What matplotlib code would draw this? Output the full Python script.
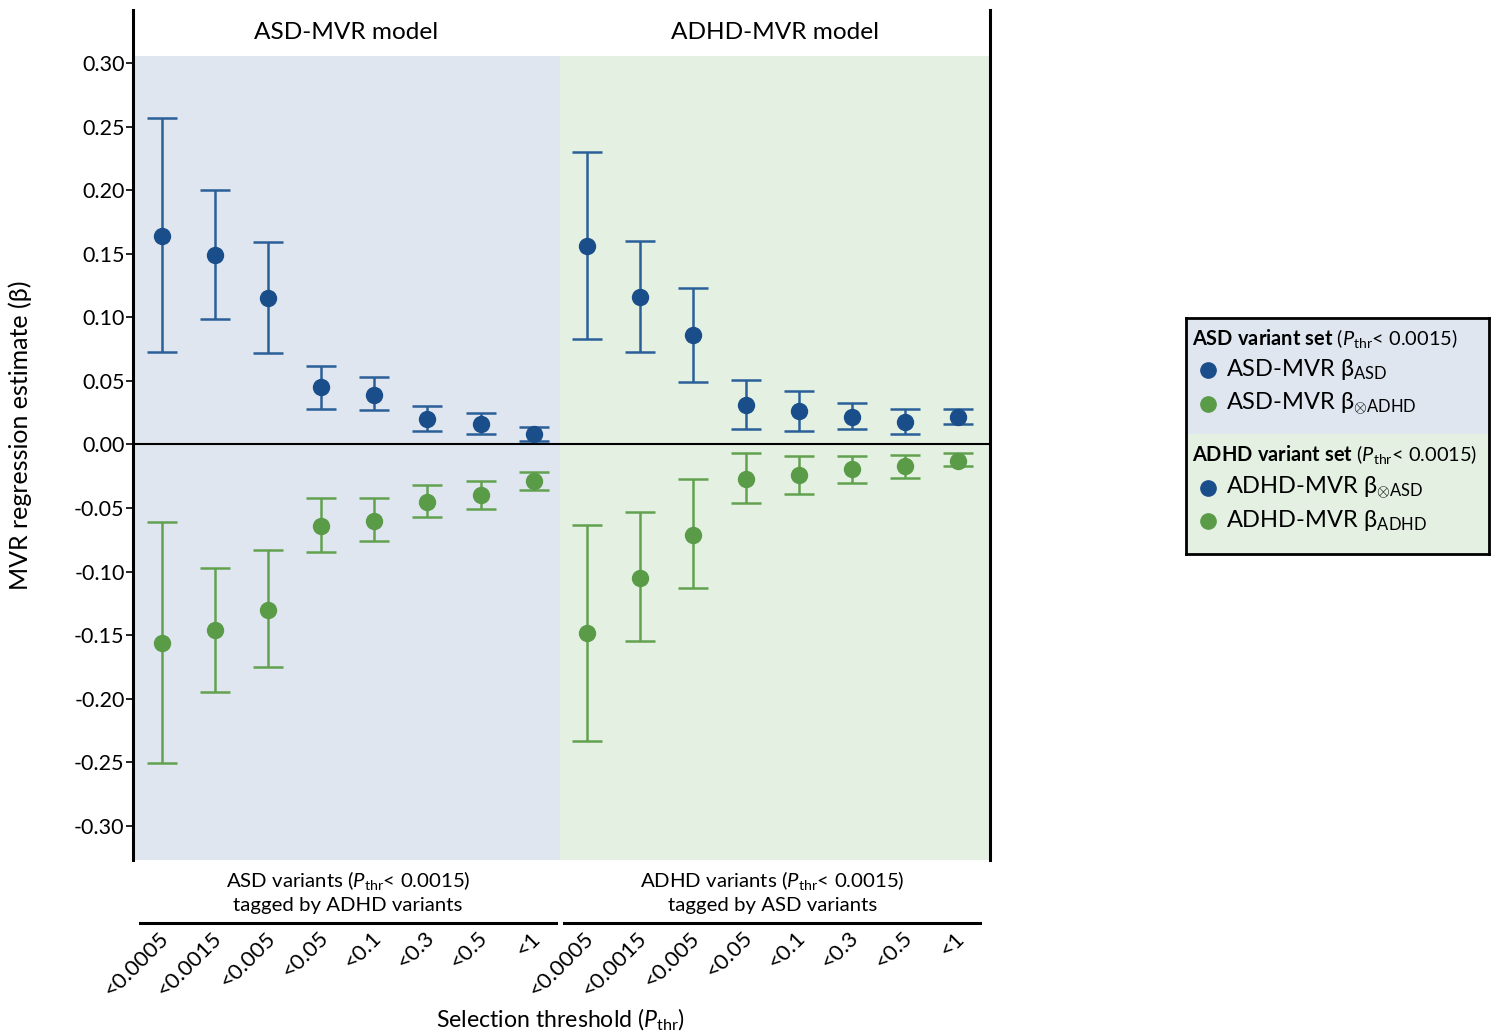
import numpy as np
import matplotlib
matplotlib.use("Agg")
import matplotlib.pyplot as plt
from matplotlib.patches import Rectangle

plt.rcParams['font.family'] = ['Lato', 'DejaVu Sans']
plt.rcParams['mathtext.fontset'] = 'custom'
plt.rcParams['mathtext.rm'] = 'Lato'
plt.rcParams['mathtext.it'] = 'Lato:italic'
plt.rcParams['mathtext.bf'] = 'Lato:bold'

# thresholds (same for both panels)
thresholds = ["<0.0005", "<0.0015", "<0.005", "<0.05", "<0.1", "<0.3", "<0.5", "<1"]

# ASD-MVR model (ASD variant set)
asd_blue = [0.164, 0.149, 0.115, 0.045, 0.039, 0.020, 0.016, 0.008]
asd_blue_lo = [0.073, 0.099, 0.072, 0.028, 0.027, 0.011, 0.008, 0.003]
asd_blue_hi = [0.257, 0.200, 0.159, 0.062, 0.053, 0.030, 0.025, 0.014]
asd_green = [-0.156, -0.146, -0.130, -0.064, -0.060, -0.045, -0.040, -0.029]
asd_green_lo = [-0.251, -0.195, -0.175, -0.085, -0.076, -0.057, -0.051, -0.036]
asd_green_hi = [-0.061, -0.097, -0.083, -0.042, -0.042, -0.032, -0.029, -0.022]

# ADHD-MVR model (ADHD variant set)
adhd_blue = [0.156, 0.116, 0.086, 0.031, 0.026, 0.022, 0.018, 0.022]
adhd_blue_lo = [0.083, 0.073, 0.049, 0.012, 0.011, 0.012, 0.008, 0.016]
adhd_blue_hi = [0.230, 0.160, 0.123, 0.051, 0.042, 0.033, 0.028, 0.028]
adhd_green = [-0.148, -0.105, -0.071, -0.027, -0.024, -0.019, -0.017, -0.013]
adhd_green_lo = [-0.233, -0.155, -0.113, -0.046, -0.039, -0.030, -0.026, -0.017]
adhd_green_hi = [-0.063, -0.053, -0.027, -0.007, -0.009, -0.009, -0.008, -0.007]

yticks = np.arange(-0.30, 0.301, 0.05)

blue = '#1a4e8a'
blue_bar = '#2b5f98'
green = '#5a9b48'
green_bar = '#62a150'
bg_blue = '#dfe6f0'
bg_green = '#e3f0e2'

fig = plt.figure(figsize=(14.92, 10.36), dpi=100)
ax = fig.add_axes([0.0891, 0.1699, 0.5744, 0.8205])

x_left = np.arange(8)
x_right = np.arange(8) + 8
ylo, ybg, yhi = -0.327, 0.306, 0.342
xmin, xmid, xmax = -0.55, 7.5, 15.6

ax.add_patch(Rectangle((xmin, ylo), xmid - xmin, ybg - ylo, color=bg_blue, zorder=0, lw=0))
ax.add_patch(Rectangle((xmid, ylo), xmax - xmid, ybg - ylo, color=bg_green, zorder=0, lw=0))
ax.axhline(0, color='black', lw=1.5, zorder=1)


def draw(x, v, lo, hi, c, cb):
    v = np.array(v)
    err = [v - np.array(lo), np.array(hi) - v]
    ax.errorbar(x, v, yerr=err, fmt='o', color=c, ecolor=cb, ms=11.5,
                elinewidth=1.8, capsize=11, capthick=1.8, zorder=3)


draw(x_left, asd_blue, asd_blue_lo, asd_blue_hi, blue, blue_bar)
draw(x_left, asd_green, asd_green_lo, asd_green_hi, green, green_bar)
draw(x_right, adhd_blue, adhd_blue_lo, adhd_blue_hi, blue, blue_bar)
draw(x_right, adhd_green, adhd_green_lo, adhd_green_hi, green, green_bar)

ax.set_xlim(xmin, xmax)
ax.set_ylim(ylo, yhi)
ax.set_yticks(yticks)
ax.set_yticklabels([f"{t:.2f}".replace("-0.00", "0.00") for t in yticks], fontsize=15.5)
ax.tick_params(axis='y', direction='out', length=5, width=1.2, pad=1)
ax.set_xticks([])
for s in ['top', 'bottom']:
    ax.spines[s].set_visible(False)
for s in ['left', 'right']:
    ax.spines[s].set_linewidth(2.2)
ax.set_ylabel("MVR regression estimate (β)", fontsize=18, labelpad=30)

ax.text((xmin + xmid) / 2, 0.973, "ASD-MVR model", transform=ax.get_xaxis_transform(),
        ha='center', va='center', fontsize=17.6)
ax.text((xmid + xmax) / 2, 0.973, "ADHD-MVR model", transform=ax.get_xaxis_transform(),
        ha='center', va='center', fontsize=17.6)

trans = ax.get_xaxis_transform()
groups = [(x_left, "ASD variants ($P_{\\rm thr}$< 0.0015)\ntagged by ADHD variants"),
          (x_right, "ADHD variants ($P_{\\rm thr}$< 0.0015)\ntagged by ASD variants")]
for xs, label in groups:
    xc = (xs[0] + xs[-1]) / 2
    ax.text(xc, -0.037, label, transform=trans, ha='center', va='center',
            fontsize=14.7, linespacing=1.3)
    ax.plot([xs[0] - 0.42, xs[-1] + 0.42], [-0.074, -0.074], transform=trans,
            color='black', lw=2.2, clip_on=False)
    for xi, lab in zip(xs, thresholds):
        ax.text(xi + 0.2, -0.080, lab, transform=trans, rotation=45,
                ha='right', va='top', fontsize=16)

fig.text(0.376, 0.016, "Selection threshold ($P_{\\rm thr}$)", ha='center', va='center', fontsize=16.7)

# legend box
lax = fig.add_axes([0.795, 0.4653, 0.2031, 0.2278])
lax.set_xlim(0, 1)
lax.set_ylim(0, 1)
lax.set_xticks([])
lax.set_yticks([])
split = 0.508
lax.add_patch(Rectangle((0, split), 1, 1 - split, color=bg_blue, lw=0))
lax.add_patch(Rectangle((0, 0), 1, split, color=bg_green, lw=0))
for s in lax.spines.values():
    s.set_linewidth(2)

legend_rows = [
    (0.915, None, r"$\bf{ASD\ variant\ set}$ ($P_{\rm thr}$< 0.0015)"),
    (0.78, blue, r"ASD-MVR β$_{\rm ASD}$"),
    (0.635, green, r"ASD-MVR β$_{\otimes{\rm ADHD}}$"),
    (0.42, None, r"$\bf{ADHD\ variant\ set}$ ($P_{\rm thr}$< 0.0015)"),
    (0.28, blue, r"ADHD-MVR β$_{\otimes{\rm ASD}}$"),
    (0.14, green, r"ADHD-MVR β$_{\rm ADHD}$"),
]
for y, c, txt in legend_rows:
    if c is None:
        lax.text(0.02, y, txt, ha='left', va='center', fontsize=14.4)
    else:
        lax.plot([0.073], [y], 'o', color=c, ms=11)
        lax.text(0.13, y, txt, ha='left', va='center', fontsize=17)

fig.savefig("out.png", dpi=100)
